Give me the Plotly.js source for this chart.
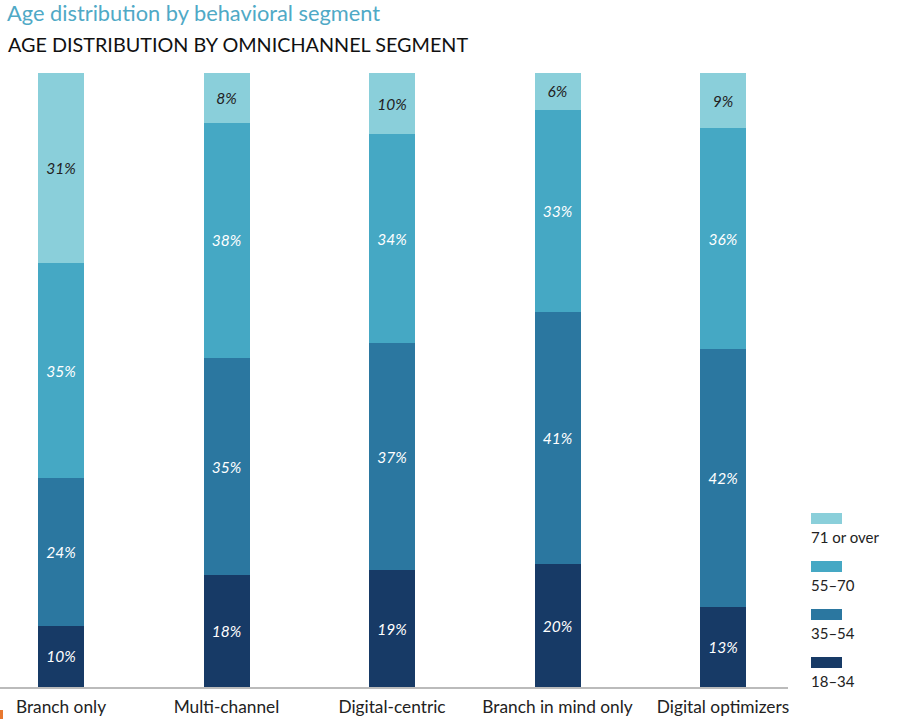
<!DOCTYPE html>
<html>
<head>
<meta charset="utf-8">
<script src="https://cdn.plot.ly/plotly-3.0.1.min.js"></script>
<style>
  html, body { margin: 0; padding: 0; background: #fff; }
  #chart { width: 900px; height: 719px; }
</style>
</head>
<body>
<div id="chart"></div>
<script>
// segments along the x axis
var segmentos = ['Branch only', 'Multi-channel', 'Digital-centric', 'Branch in mind only', 'Digital optimizers'];

// age groups, bottom to top of each stack
var grupos = ['18\u201334', '35\u201354', '55\u201370', '71 or over'];

// share of each age group per segment (%), as printed on the bars
var edad18a34 = [10, 18, 19, 20, 13];
var edad35a54 = [24, 35, 37, 41, 42];
var edad55a70 = [35, 38, 34, 33, 36];
var edad71oMas = [31, 8, 10, 6, 9];

var colores = ['#173a66', '#2b77a0', '#45a8c4', '#8acfda'];
var coloresTexto = ['#ffffff', '#ffffff', '#ffffff', '#222222'];

var fuente = 'Lato, "Open Sans", sans-serif';
var series = [edad18a34, edad35a54, edad55a70, edad71oMas];

var data = series.map(function (valores, i) {
    return {
        type: 'bar',
        name: grupos[i],
        x: segmentos,
        y: valores,
        text: valores.map(function (v) { return v + '%'; }),
        textposition: 'inside',
        insidetextanchor: 'middle',
        textangle: 0,
        constraintext: 'none',
        textfont: { family: fuente, size: 15.5, color: coloresTexto[i], style: 'italic' },
        marker: { color: colores[i], line: { width: 0 } },
        width: 0.278,
        hoverinfo: 'skip',
        showlegend: false
    };
});

// plot area: x 0..788 px, y 73..687 px
var anchoPlot = 788, altoPlot = 614, baseY = 687;
function px2x(p) { return p / anchoPlot; }
function px2y(p) { return (baseY - p) / altoPlot; }

// custom legend: swatch above label, top item is the oldest group
var shapes = [];
var annotations = [];
for (var k = 0; k < grupos.length; k++) {
    var idx = grupos.length - 1 - k;
    var arriba = 513 + k * 48;
    shapes.push({
        type: 'rect', xref: 'paper', yref: 'paper',
        x0: px2x(811), x1: px2x(842), y0: px2y(arriba + 11), y1: px2y(arriba),
        fillcolor: colores[idx], line: { width: 0 }
    });
    annotations.push({
        xref: 'paper', yref: 'paper', x: px2x(809), y: px2y(arriba + 24),
        xanchor: 'left', yanchor: 'middle', showarrow: false,
        text: grupos[idx], font: { family: fuente, size: 15, color: '#222' }
    });
}

// subtitle
annotations.push({
    xref: 'paper', yref: 'paper', x: px2x(6), y: px2y(44),
    xanchor: 'left', yanchor: 'middle', showarrow: false,
    text: 'AGE DISTRIBUTION BY OMNICHANNEL SEGMENT',
    font: { family: fuente, size: 19.8, color: '#111' }
});

// small orange marker at the bottom-left corner
shapes.push({
    type: 'rect', xref: 'paper', yref: 'paper',
    x0: 0, x1: px2x(3), y0: px2y(719), y1: px2y(710),
    fillcolor: '#e8782f', line: { width: 0 }
});

var layout = {
    width: 900,
    height: 719,
    margin: { l: 0, r: 112, t: 73, b: 32, pad: 0 },
    paper_bgcolor: '#fff',
    plot_bgcolor: '#fff',
    barmode: 'stack',
    barnorm: 'percent',
    title: {
        text: 'Age distribution by behavioral segment',
        xref: 'container', yref: 'container',
        x: 7 / 900, xanchor: 'left',
        y: 1 - 13 / 719, yanchor: 'middle',
        font: { family: fuente, size: 21.8, color: '#4fa9c6' }
    },
    xaxis: {
        type: 'category',
        range: [-61 / 165.5, (anchoPlot - 61) / 165.5],
        showgrid: false,
        zeroline: false,
        showline: true,
        linecolor: '#bbbbbb',
        linewidth: 2,
        ticks: '',
        ticklabelstandoff: 3,
        tickfont: { family: fuente, size: 17.3, color: '#222' }
    },
    yaxis: {
        range: [0, 100],
        visible: false,
        showgrid: false,
        zeroline: false
    },
    shapes: shapes,
    annotations: annotations,
    showlegend: false
};

Plotly.newPlot('chart', data, layout, { staticPlot: true, displayModeBar: false });
</script>
</body>
</html>
